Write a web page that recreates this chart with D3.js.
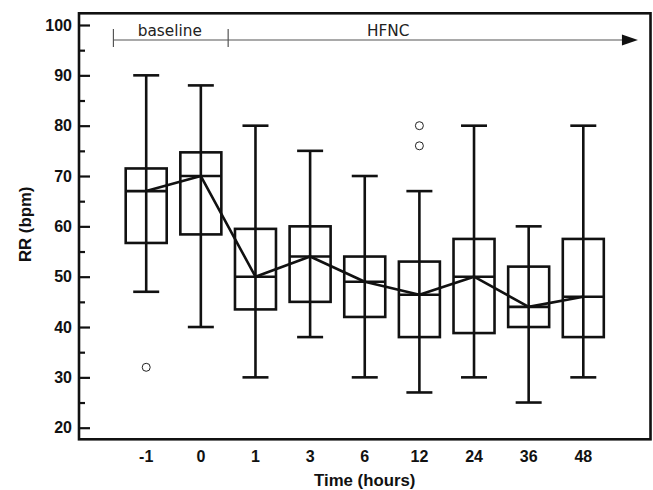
<!DOCTYPE html>
<html>
<head>
<meta charset="utf-8">
<script src="https://cdn.jsdelivr.net/npm/d3@7"></script>
<style>
  html, body { margin: 0; padding: 0; background: #fff; }
  svg { display: block; }
</style>
</head>
<body>
<svg id="chart" width="653" height="490"></svg>
<script>
// ---- data ----
const categories = ["-1", "0", "1", "3", "6", "12", "24", "36", "48"];
const whiskerHigh = [90, 88, 80, 75, 70, 67, 80, 60, 80];
const q3Values    = [71.5, 74.7, 59.5, 60, 54, 53, 57.5, 52, 57.5];
const medians     = [67, 70, 50, 54, 49, 46.4, 50, 44, 46];
const q1Values    = [56.7, 58.4, 43.5, 45, 42, 38, 38.8, 40, 38];
const whiskerLow  = [47, 40, 30, 38, 30, 27, 30, 25, 30];
const outlierCats = ["-1", "12", "12"];
const outlierVals = [32, 80, 76];
const yMajorTicks = [20, 30, 40, 50, 60, 70, 80, 90, 100];
const yMinorTicks = [25, 35, 45, 55, 65, 75, 85, 95];
const phaseLabels = ["baseline", "HFNC"];

// ---- layout ----
const svg = d3.select("#chart");
const frame = { left: 79, right: 650.5, top: 13.3, bottom: 439.3 };

const x = d3.scalePoint().domain(categories)
  .range([frame.left, frame.right]).padding(1.23);
const y = d3.scaleLinear().domain([20, 100]).range([427.7, 25]);

const boxW = 41, capW = 26, sw = 2.6;
const boldFont = "'Liberation Sans', Arial, sans-serif";

// frame
svg.append("rect")
  .attr("x", frame.left).attr("y", frame.top)
  .attr("width", frame.right - frame.left).attr("height", frame.bottom - frame.top)
  .attr("fill", "none").attr("stroke", "#111").attr("stroke-width", 2.6);

// y axis ticks (inward) via d3 axis
const yAxisMajor = d3.axisRight(y).tickValues(yMajorTicks).tickSize(11).tickFormat("");
const gMaj = svg.append("g").attr("transform", `translate(${frame.left},0)`).call(yAxisMajor);
gMaj.select(".domain").remove();
gMaj.selectAll("line").attr("stroke", "#111").attr("stroke-width", 2.2);

const yAxisMinor = d3.axisRight(y).tickValues(yMinorTicks).tickSize(6).tickFormat("");
const gMin = svg.append("g").attr("transform", `translate(${frame.left},0)`).call(yAxisMinor);
gMin.select(".domain").remove();
gMin.selectAll("line").attr("stroke", "#111").attr("stroke-width", 2.2);

// y tick labels
svg.append("g").selectAll("text").data(yMajorTicks).join("text")
  .attr("x", 72).attr("y", d => y(d)).attr("dy", "0.36em")
  .attr("text-anchor", "end")
  .attr("font-family", boldFont).attr("font-weight", "bold").attr("font-size", 16)
  .attr("fill", "#111").text(d => d);

// x tick labels
svg.append("g").selectAll("text").data(categories).join("text")
  .attr("x", d => x(d)).attr("y", 461.5)
  .attr("text-anchor", "middle")
  .attr("font-family", boldFont).attr("font-weight", "bold").attr("font-size", 16)
  .attr("fill", "#111").text(d => d);

// axis titles
svg.append("text")
  .attr("x", (frame.left + frame.right) / 2).attr("y", 486)
  .attr("text-anchor", "middle")
  .attr("font-family", boldFont).attr("font-weight", "bold").attr("font-size", 16.8)
  .attr("fill", "#111").text("Time (hours)");

svg.append("text")
  .attr("transform", `translate(31,${(frame.top + frame.bottom) / 2 - 2}) rotate(-90)`)
  .attr("text-anchor", "middle")
  .attr("font-family", boldFont).attr("font-weight", "bold").attr("font-size", 16.8)
  .attr("fill", "#111").text("RR (bpm)");

// boxplots
const boxes = svg.append("g").selectAll("g").data(categories).join("g");
boxes.append("line")
  .attr("x1", d => x(d)).attr("x2", d => x(d))
  .attr("y1", (d, i) => y(whiskerLow[i])).attr("y2", (d, i) => y(whiskerHigh[i]))
  .attr("stroke", "#111").attr("stroke-width", sw);
boxes.append("line")
  .attr("x1", d => x(d) - capW / 2).attr("x2", d => x(d) + capW / 2)
  .attr("y1", (d, i) => y(whiskerHigh[i])).attr("y2", (d, i) => y(whiskerHigh[i]))
  .attr("stroke", "#111").attr("stroke-width", sw);
boxes.append("line")
  .attr("x1", d => x(d) - capW / 2).attr("x2", d => x(d) + capW / 2)
  .attr("y1", (d, i) => y(whiskerLow[i])).attr("y2", (d, i) => y(whiskerLow[i]))
  .attr("stroke", "#111").attr("stroke-width", sw);
boxes.append("rect")
  .attr("x", d => x(d) - boxW / 2).attr("width", boxW)
  .attr("y", (d, i) => y(q3Values[i]))
  .attr("height", (d, i) => y(q1Values[i]) - y(q3Values[i]))
  .attr("fill", "none").attr("stroke", "#111").attr("stroke-width", sw);
boxes.append("line")
  .attr("x1", d => x(d) - boxW / 2).attr("x2", d => x(d) + boxW / 2)
  .attr("y1", (d, i) => y(medians[i])).attr("y2", (d, i) => y(medians[i]))
  .attr("stroke", "#111").attr("stroke-width", sw);

// outliers
svg.append("g").selectAll("circle").data(outlierVals).join("circle")
  .attr("cx", (d, i) => x(outlierCats[i])).attr("cy", d => y(d)).attr("r", 4)
  .attr("fill", "none").attr("stroke", "#222").attr("stroke-width", 1);

// median connecting line
svg.append("path")
  .datum(categories)
  .attr("d", d3.line().x(d => x(d)).y((d, i) => y(medians[i])))
  .attr("fill", "none").attr("stroke", "#111").attr("stroke-width", 2.6)
  .attr("stroke-linejoin", "round");

// phase annotation
const step = x.step();
const brY = 40;
const bx0 = x("-1") - 0.6 * step;
const bx1 = (x("0") + x("1")) / 2;
const arrowEnd = x("48") + step;
const ann = svg.append("g").attr("stroke", "#555").attr("stroke-width", 1.2);
ann.append("line").attr("x1", bx0).attr("x2", arrowEnd - 14).attr("y1", brY).attr("y2", brY);
ann.append("line").attr("x1", bx0).attr("x2", bx0).attr("y1", brY - 11).attr("y2", brY + 7);
ann.append("line").attr("x1", bx1).attr("x2", bx1).attr("y1", brY - 11).attr("y2", brY + 7);
svg.append("path")
  .attr("d", `M${arrowEnd - 16},${brY - 5.5} L${arrowEnd},${brY} L${arrowEnd - 16},${brY + 5.5} Z`)
  .attr("fill", "#111");

svg.append("text")
  .attr("x", (bx0 + bx1) / 2 - 1).attr("y", 35.5)
  .attr("text-anchor", "middle")
  .attr("font-family", "'DejaVu Sans', sans-serif").attr("font-size", 15.3)
  .attr("fill", "#222").text(phaseLabels[0]);
svg.append("text")
  .attr("x", x("6") + 0.43 * step).attr("y", 35.5)
  .attr("text-anchor", "middle")
  .attr("font-family", "'DejaVu Sans', sans-serif").attr("font-size", 15.3)
  .attr("fill", "#222").text(phaseLabels[1]);
</script>
</body>
</html>
